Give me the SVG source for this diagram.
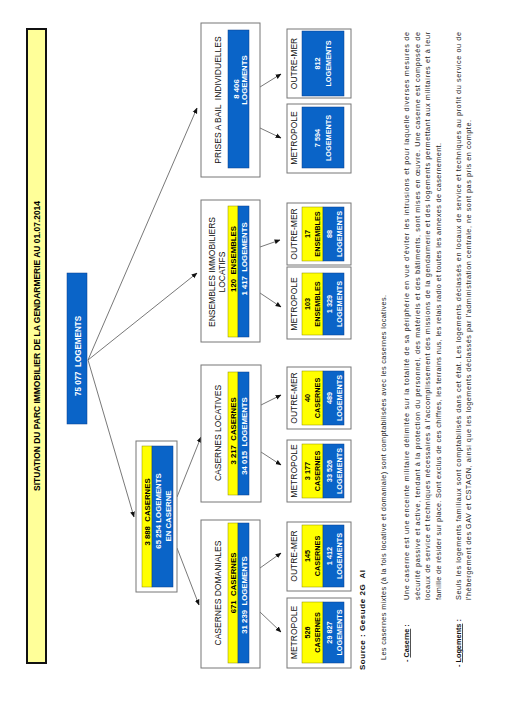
<svg xmlns="http://www.w3.org/2000/svg" width="508" height="727" viewBox="0 0 508 727">
<defs>
<style>
.bg{fill:#ffffff}
.title{fill:#FFFF99;stroke:#111;stroke-width:2}
.box{fill:#ffffff;stroke:#777;stroke-width:1}
.yel{fill:#FFFF00;stroke:#8a8a00;stroke-width:0.5}
.blu{fill:#0A64C8;stroke:#0a3d8a;stroke-width:0.5}
text{font-family:"Liberation Sans",Arial,sans-serif}
.tt{font-size:8.5px;font-weight:bold;fill:#000}
.hd{font-size:8.5px;fill:#111;text-anchor:middle}
.ky{font-size:7.8px;font-weight:bold;fill:#000;text-anchor:middle}
.kb{font-size:7.8px;font-weight:bold;fill:#fff;text-anchor:middle}
.sy{font-size:7.3px;font-weight:bold;fill:#000;text-anchor:middle}
.sb{font-size:7.3px;font-weight:bold;fill:#fff;text-anchor:middle}
.p{font-size:7.3px;fill:#222}
.pb{font-size:7.3px;fill:#111;font-weight:bold}
.cn{fill:none;stroke:#555;stroke-width:0.8}
</style>
<marker id="ah" viewBox="0 0 10 10" refX="9" refY="5" markerUnits="userSpaceOnUse" markerWidth="6" markerHeight="6" orient="auto">
<path d="M0,1 L10,5 L0,9 z" fill="#111"/>
</marker>
</defs>
<rect class="bg" x="0" y="0" width="508" height="727"/>

<g id="title">
<rect class="title" x="27" y="29" width="19" height="634"/>
<text class="tt" transform="translate(39.5 346) rotate(-90)" text-anchor="middle" textLength="290" lengthAdjust="spacingAndGlyphs">SITUATION DU PARC IMMOBILIER DE LA GENDARMERIE AU 01.07.2014</text>
</g>

<g id="connectors">
<line class="cn" x1="88" y1="360" x2="197" y2="108" marker-end="url(#ah)"/>
<line class="cn" x1="88" y1="360" x2="197" y2="273" marker-end="url(#ah)"/>
<line class="cn" x1="88" y1="360" x2="134" y2="517" marker-end="url(#ah)"/>
<line class="cn" x1="177" y1="497" x2="201" y2="437" marker-end="url(#ah)"/>
<line class="cn" x1="177" y1="548" x2="199" y2="605" marker-end="url(#ah)"/>
<line class="cn" x1="260" y1="612" x2="281" y2="632" marker-end="url(#ah)"/>
<line class="cn" x1="260" y1="568" x2="281" y2="553" marker-end="url(#ah)"/>
<line class="cn" x1="261" y1="452" x2="281" y2="465" marker-end="url(#ah)"/>
<line class="cn" x1="261" y1="405" x2="281" y2="395" marker-end="url(#ah)"/>
<line class="cn" x1="260" y1="293" x2="281" y2="307" marker-end="url(#ah)"/>
<line class="cn" x1="260" y1="247" x2="280" y2="240" marker-end="url(#ah)"/>
<line class="cn" x1="260" y1="128" x2="281" y2="138" marker-end="url(#ah)"/>
<line class="cn" x1="260" y1="87" x2="281" y2="74" marker-end="url(#ah)"/>
</g>

<g id="total">
<rect class="blu" x="67" y="273" width="20" height="151"/>
<text class="kb" xml:space="preserve" transform="translate(80.5 356) rotate(-90)" style="font-size:9px" textLength="80" lengthAdjust="spacingAndGlyphs">75 077  LOGEMENTS</text>
</g>

<g id="casernes">
<rect class="box" x="136" y="441" width="41" height="151"/>
<rect class="yel" x="142" y="446" width="10" height="141"/>
<rect class="blu" x="152" y="446" width="21" height="141"/>
<text class="ky" xml:space="preserve" transform="translate(149.5 512) rotate(-90)">3 888  CASERNES</text>
<text class="kb" transform="translate(160.5 511) rotate(-90)">65 254 LOGEMENTS</text>
<text class="kb" transform="translate(170.5 516) rotate(-90)">EN CASERNE</text>
</g>

<g id="domaniales">
<rect class="box" x="201" y="520" width="59" height="148"/>
<text class="hd" transform="translate(220.5 593) rotate(-90)">CASERNES DOMANIALES</text>
<rect class="yel" x="228" y="523" width="10" height="140"/>
<rect class="blu" x="238" y="523" width="11" height="140"/>
<text class="ky" xml:space="preserve" transform="translate(236 583) rotate(-90)">671  CASERNES</text>
<text class="kb" xml:space="preserve" transform="translate(247 595) rotate(-90)">31 239  LOGEMENTS</text>
</g>

<g id="locatives">
<rect class="box" x="201" y="365" width="60" height="137"/>
<text class="hd" transform="translate(221 433) rotate(-90)">CASERNES LOCATIVES</text>
<rect class="yel" x="228" y="372" width="10" height="123"/>
<rect class="blu" x="238" y="372" width="11" height="123"/>
<text class="ky" xml:space="preserve" transform="translate(236 431) rotate(-90)">3 217  CASERNES</text>
<text class="kb" xml:space="preserve" transform="translate(247 436) rotate(-90)">34 015  LOGEMENTS</text>
</g>

<g id="ensembles">
<rect class="box" x="201" y="200" width="59" height="142"/>
<text class="hd" transform="translate(215 272) rotate(-90)">ENSEMBLES IMMOBILIERS</text>
<text class="hd" transform="translate(225 272) rotate(-90)">LOCATIFS</text>
<rect class="yel" x="228" y="206" width="10" height="131"/>
<rect class="blu" x="238" y="206" width="11" height="131"/>
<text class="ky" xml:space="preserve" transform="translate(236 259) rotate(-90)">120  ENSEMBLES</text>
<text class="kb" xml:space="preserve" transform="translate(247 259) rotate(-90)">1 417  LOGEMENTS</text>
</g>

<g id="prises">
<rect class="box" x="201" y="23" width="59" height="154"/>
<text class="hd" xml:space="preserve" transform="translate(220.5 100) rotate(-90)">PRISES A BAIL  INDIVIDUELLES</text>
<rect class="blu" x="228" y="30" width="21" height="138"/>
<text class="kb" transform="translate(238.5 89) rotate(-90)">8 406</text>
<text class="kb" transform="translate(247 80) rotate(-90)">LOGEMENTS</text>
</g>

<g id="dom-metropole">
<rect class="box" x="287" y="598" width="64" height="70"/>
<text class="hd" transform="translate(296.5 632.5) rotate(-90)">METROPOLE</text>
<rect class="yel" x="302" y="602" width="21" height="61"/>
<rect class="blu" x="323" y="602" width="21" height="61"/>
<text class="sy" transform="translate(310 632.5) rotate(-90)">526</text>
<text class="sy" transform="translate(320 632.5) rotate(-90)">CASERNES</text>
<text class="sb" transform="translate(332 632.5) rotate(-90)">29 827</text>
<text class="sb" transform="translate(342 632.5) rotate(-90)">LOGEMENTS</text>
</g>

<g id="dom-outremer">
<rect class="box" x="287" y="522" width="64" height="69"/>
<text class="hd" transform="translate(296.5 556) rotate(-90)">OUTRE-MER</text>
<rect class="yel" x="302" y="525" width="21" height="62"/>
<rect class="blu" x="323" y="525" width="21" height="62"/>
<text class="sy" transform="translate(310 556) rotate(-90)">145</text>
<text class="sy" transform="translate(320 556) rotate(-90)">CASERNES</text>
<text class="sb" transform="translate(332 556) rotate(-90)">1 412</text>
<text class="sb" transform="translate(342 556) rotate(-90)">LOGEMENTS</text>
</g>

<g id="loc-metropole">
<rect class="box" x="287" y="440" width="64" height="62"/>
<text class="hd" transform="translate(296.5 471) rotate(-90)">METROPOLE</text>
<rect class="yel" x="302" y="444" width="21" height="54"/>
<rect class="blu" x="323" y="444" width="21" height="54"/>
<text class="sy" transform="translate(310 471) rotate(-90)">3 177</text>
<text class="sy" transform="translate(320 471) rotate(-90)">CASERNES</text>
<text class="sb" transform="translate(332 471) rotate(-90)">33 526</text>
<text class="sb" transform="translate(342 471) rotate(-90)">LOGEMENTS</text>
</g>

<g id="loc-outremer">
<rect class="box" x="287" y="367" width="64" height="62"/>
<text class="hd" transform="translate(296.5 398) rotate(-90)">OUTRE-MER</text>
<rect class="yel" x="302" y="371" width="21" height="54"/>
<rect class="blu" x="323" y="371" width="21" height="54"/>
<text class="sy" transform="translate(310 398) rotate(-90)">40</text>
<text class="sy" transform="translate(320 398) rotate(-90)">CASERNES</text>
<text class="sb" transform="translate(332 398) rotate(-90)">489</text>
<text class="sb" transform="translate(342 398) rotate(-90)">LOGEMENTS</text>
</g>

<g id="ens-metropole">
<rect class="box" x="287" y="267" width="64" height="72"/>
<text class="hd" transform="translate(296.5 304) rotate(-90)">METROPOLE</text>
<rect class="yel" x="302" y="273" width="21" height="62"/>
<rect class="blu" x="323" y="273" width="21" height="62"/>
<text class="sy" transform="translate(310 304) rotate(-90)">103</text>
<text class="sy" transform="translate(320 304) rotate(-90)">ENSEMBLES</text>
<text class="sb" transform="translate(332 304) rotate(-90)">1 329</text>
<text class="sb" transform="translate(342 304) rotate(-90)">LOGEMENTS</text>
</g>

<g id="ens-outremer">
<rect class="box" x="287" y="203" width="64" height="62"/>
<text class="hd" transform="translate(296.5 234) rotate(-90)">OUTRE-MER</text>
<rect class="yel" x="302" y="207" width="21" height="54"/>
<rect class="blu" x="323" y="207" width="21" height="54"/>
<text class="sy" transform="translate(310 234) rotate(-90)">17</text>
<text class="sy" transform="translate(320 234) rotate(-90)">ENSEMBLES</text>
<text class="sb" transform="translate(332 234) rotate(-90)">88</text>
<text class="sb" transform="translate(342 234) rotate(-90)">LOGEMENTS</text>
</g>

<g id="pri-metropole">
<rect class="box" x="287" y="104" width="64" height="69"/>
<text class="hd" transform="translate(296.5 138) rotate(-90)">METROPOLE</text>
<rect class="blu" x="302" y="107" width="42" height="61"/>
<text class="sb" transform="translate(320 138) rotate(-90)">7 594</text>
<text class="sb" transform="translate(331 138) rotate(-90)">LOGEMENTS</text>
</g>

<g id="pri-outremer">
<rect class="box" x="287" y="29" width="64" height="69"/>
<text class="hd" transform="translate(296.5 63.5) rotate(-90)">OUTRE-MER</text>
<rect class="blu" x="302" y="31" width="42" height="65"/>
<text class="sb" transform="translate(320 63.5) rotate(-90)">812</text>
<text class="sb" transform="translate(331 63.5) rotate(-90)">LOGEMENTS</text>
</g>

<g id="notes">
<text class="pb" xml:space="preserve" transform="translate(365 670) rotate(-90)" style="font-size:8px" textLength="100">Source : Gesude 2G  AI</text>
<text class="p" transform="translate(385.5 660) rotate(-90)" textLength="365">Les casernes mixtes (à la fois locative et domaniale) sont comptabilisées avec les casernes locatives.</text>
<text class="pb" transform="translate(409 662) rotate(-90)">- <tspan style="text-decoration:underline">Caserne</tspan> :</text>
<text class="p" transform="translate(409 600) rotate(-90)" textLength="568">Une caserne est une enceinte militaire délimitée sur la totalité de sa périphérie en vue d'éviter les intrusions et pour laquelle diverses mesures de</text>
<text class="p" transform="translate(419.5 600) rotate(-90)" textLength="568">sécurité passive et active, tendant à la protection du personnel, des matériels et des bâtiments, sont mises en œuvre. Une caserne est composée de</text>
<text class="p" transform="translate(430 600) rotate(-90)" textLength="568">locaux de service et techniques nécessaires à l'accomplissement des missions de la gendarmerie et des logements permettant aux militaires et à leur</text>
<text class="p" transform="translate(440.5 600) rotate(-90)" textLength="457">famille de résider sur place. Sont exclus de ces chiffres, les terrains nus, les relais radio et toutes les annexes de casernement.</text>
<text class="pb" transform="translate(461 667) rotate(-90)">- <tspan style="text-decoration:underline">Logements</tspan> :</text>
<text class="p" transform="translate(461 600) rotate(-90)" textLength="568">Seuls les logements familiaux sont comptabilisés dans cet état. Les logements déclassés en locaux de service et techniques au profit du service ou de</text>
<text class="p" transform="translate(471 600) rotate(-90)" textLength="480">l'hébergement des GAV et CSTAGN, ainsi que les logements déclassés par l'administration centrale, ne sont pas pris en compte.</text>
</g>
</svg>
